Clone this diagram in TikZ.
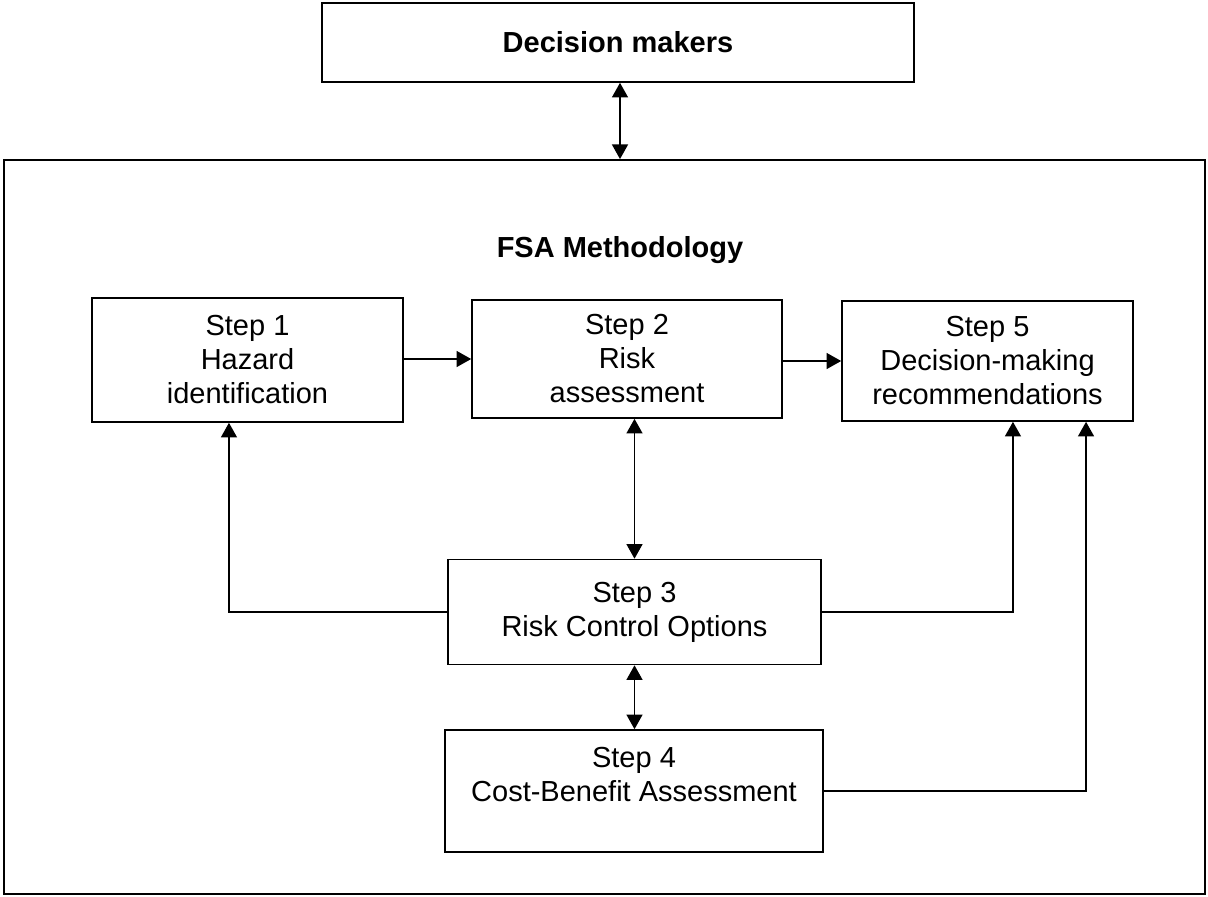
\documentclass[tikz,border=0pt]{standalone}
\usepackage{fontspec}
\setmainfont{Liberation Sans}
\usepackage{tikz}
\usetikzlibrary{arrows.meta}

\begin{document}
\begin{tikzpicture}[x=0.75pt,y=0.75pt,yscale=-1,xscale=1,
  stepbox/.style={draw,line width=1.2pt,inner sep=0pt,align=center,
    font=\fontsize{21.75pt}{25.5pt}\selectfont},
  link/.style={line width=1.2pt,-{Triangle[width=12pt,length=11pt]}},
  dlink/.style={line width=1.2pt,{Triangle[width=12pt,length=11pt]}-{Triangle[width=12pt,length=11pt]}}]
\useasboundingbox (0,0) rectangle (1208,897);

%Outer frame
\node [draw,line width=1.4pt,inner sep=0pt,minimum width=900.75pt,minimum height=550.5pt] (fsa) at (604.5,527) {};
% Text Node
\node [font=\bfseries\fontsize{21.75pt}{25.5pt}\selectfont] (title) at (620,250) {FSA Methodology};

%Boxes
\node [stepbox,minimum width=444pt,minimum height=59.25pt,font=\bfseries\fontsize{21.75pt}{25.5pt}\selectfont] (dm) at (618,42.5) {Decision makers};
\node [stepbox,minimum width=233.25pt,minimum height=93pt] (s1) at (247.5,360) {Step 1\\Hazard\\identification};
\node [stepbox,minimum width=232.5pt,minimum height=88.5pt] (s2) at (627,359) {Step 2\\Risk\\assessment};
\node [stepbox,minimum width=218.25pt,minimum height=90pt] (s5) at (987.5,361) {Step 5\\Decision-making\\recommendations};
\node [stepbox,minimum width=279.75pt,minimum height=78.75pt] (s3) at (634.5,612) {Step 3\\Risk Control Options};
\node [stepbox,minimum width=283.5pt,minimum height=91.5pt] (s4) at (634,791) {Step 4\\Cost-Benefit Assessment\\~};

%Straight Lines
\draw [dlink] (dm.south -| 620,0) -- (fsa.north -| 620,0);
\draw [link] (s1.east |- s2.west) -- (s2.west);
\draw [link] (s2.east |- s5.west) -- (s5.west);
\draw [dlink] (s3.north |- s2.south) -- (s3.north);
\draw [dlink] (s3.south) -- (s3.south |- s4.north);

%Elbow Lines
\draw [link] (s3.west) -| ([xshift=-13.9pt]s1.south);
\draw [link] (s3.east) -| ([xshift=19.1pt]s5.south);
\draw [link] (s4.east) -| ([xshift=73.9pt]s5.south);
\end{tikzpicture}
\end{document}
